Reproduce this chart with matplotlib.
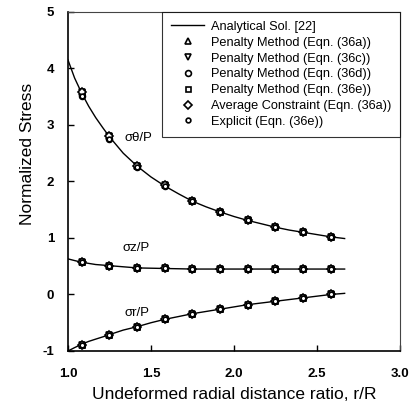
import matplotlib
matplotlib.use('Agg')
import matplotlib.pyplot as plt

plt.rcParams['font.family'] = ['Liberation Sans', 'DejaVu Sans']
plt.rcParams['axes.unicode_minus'] = False

# analytical solution
x_an = [1.0, 1.04, 1.083, 1.125, 1.167, 1.21, 1.25, 1.333, 1.417, 1.5, 1.583,
        1.667, 1.75, 1.833, 1.917, 2.0, 2.083, 2.167, 2.25, 2.333, 2.417, 2.5,
        2.583, 2.667]
theta_an = [4.15, 3.83, 3.56, 3.33, 3.13, 2.95, 2.79, 2.50, 2.27, 2.08, 1.92,
            1.78, 1.65, 1.55, 1.46, 1.38, 1.31, 1.25, 1.19, 1.14, 1.10, 1.06,
            1.02, 0.99]
z_an = [0.63, 0.60, 0.57, 0.55, 0.53, 0.52, 0.51, 0.49, 0.47, 0.465, 0.46,
        0.455, 0.45, 0.45, 0.45, 0.45, 0.45, 0.45, 0.45, 0.45, 0.45, 0.45,
        0.45, 0.45]
r_an = [-1.0, -0.94, -0.88, -0.83, -0.79, -0.75, -0.71, -0.63, -0.57, -0.50, -0.44,
        -0.39, -0.34, -0.30, -0.26, -0.22, -0.18, -0.15, -0.12, -0.09, -0.06, -0.03,
        0.0, 0.02]

# numerical results at element centres
x_pts = [1.083, 1.25, 1.417, 1.583, 1.75, 1.917, 2.083, 2.25, 2.417, 2.583]
theta_hi = [3.59, 2.81, 2.28, 1.93, 1.65, 1.46, 1.32, 1.19, 1.10, 1.02]
theta_lo = [3.52, 2.75, 2.25, 1.92, 1.65, 1.46, 1.32, 1.19, 1.10, 1.02]
z_pts = [0.57, 0.51, 0.47, 0.46, 0.45, 0.45, 0.45, 0.45, 0.45, 0.45]
r_pts = [-0.89, -0.72, -0.57, -0.44, -0.35, -0.26, -0.18, -0.12, -0.06, 0.00]

methods = ['Penalty Method (Eqn. (36a))', 'Penalty Method (Eqn. (36c))',
           'Penalty Method (Eqn. (36d))', 'Penalty Method (Eqn. (36e))',
           'Average Constraint (Eqn. (36a))', 'Explicit (Eqn. (36e))']
markers = ['^', 'v', 'o', 's', 'D', 'o']
msizes = [4, 4, 4.2, 3.6, 3.6, 3.4]
theta_sets = [theta_hi, theta_hi, theta_lo, theta_hi, theta_hi, theta_lo]

fig = plt.figure(figsize=(4.17, 4.11), dpi=100)
ax = fig.add_axes([0.163, 0.146, 0.796, 0.825])

ax.plot(x_an, theta_an, color='black', lw=1.0, label='Analytical Sol. [22]')
ax.plot(x_an, z_an, color='black', lw=1.0)
ax.plot(x_an, r_an, color='black', lw=1.0)

for name, m, ms, th in zip(methods, markers, msizes, theta_sets):
    style = dict(ls='none', marker=m, ms=ms, mfc='white', mec='black', mew=1.2)
    ax.plot(x_pts, th, label=name, **style)
    ax.plot(x_pts, z_pts, **style)
    ax.plot(x_pts, r_pts, **style)

ax.text(1.34, 2.77, 'σθ/P', fontsize=9.5, va='center')
ax.text(1.33, 0.83, 'σz/P', fontsize=9.5, va='center')
ax.text(1.34, -0.32, 'σr/P', fontsize=9.5, va='center')

ax.set_xlim(1.0, 3.0)
ax.set_ylim(-1, 5)
ax.set_xticks([1.0, 1.5, 2.0, 2.5, 3.0])
ax.set_xticklabels(['1.0', '1.5', '2.0', '2.5', '3.0'])
ax.set_yticks([-1, 0, 1, 2, 3, 4, 5])
ax.tick_params(direction='in', length=4, width=1.0, labelsize=9.5)
ax.tick_params(axis='x', pad=12)
ax.tick_params(axis='y', pad=10)
for lbl in ax.get_xticklabels() + ax.get_yticklabels():
    lbl.set_fontweight('bold')
for side in ['left', 'bottom']:
    ax.spines[side].set_linewidth(1.2)
for side in ['top', 'right']:
    ax.spines[side].set_linewidth(0.8)
    ax.spines[side].set_color('#444444')

ax.set_xlabel('Undeformed radial distance ratio, r/R', fontsize=12.5)
ax.set_ylabel('Normalized Stress', fontsize=12.5)
ax.xaxis.set_label_coords(0.5, -0.105)
ax.yaxis.set_label_coords(-0.10, 0.58)

leg = ax.legend(loc='upper right', borderaxespad=0, fontsize=9.2, frameon=True,
                fancybox=False, edgecolor='black', handlelength=2.6,
                labelspacing=0.3, handletextpad=0.5, borderpad=0.7)
leg.get_frame().set_linewidth(0.8)

fig.savefig('out.png', dpi=100)
